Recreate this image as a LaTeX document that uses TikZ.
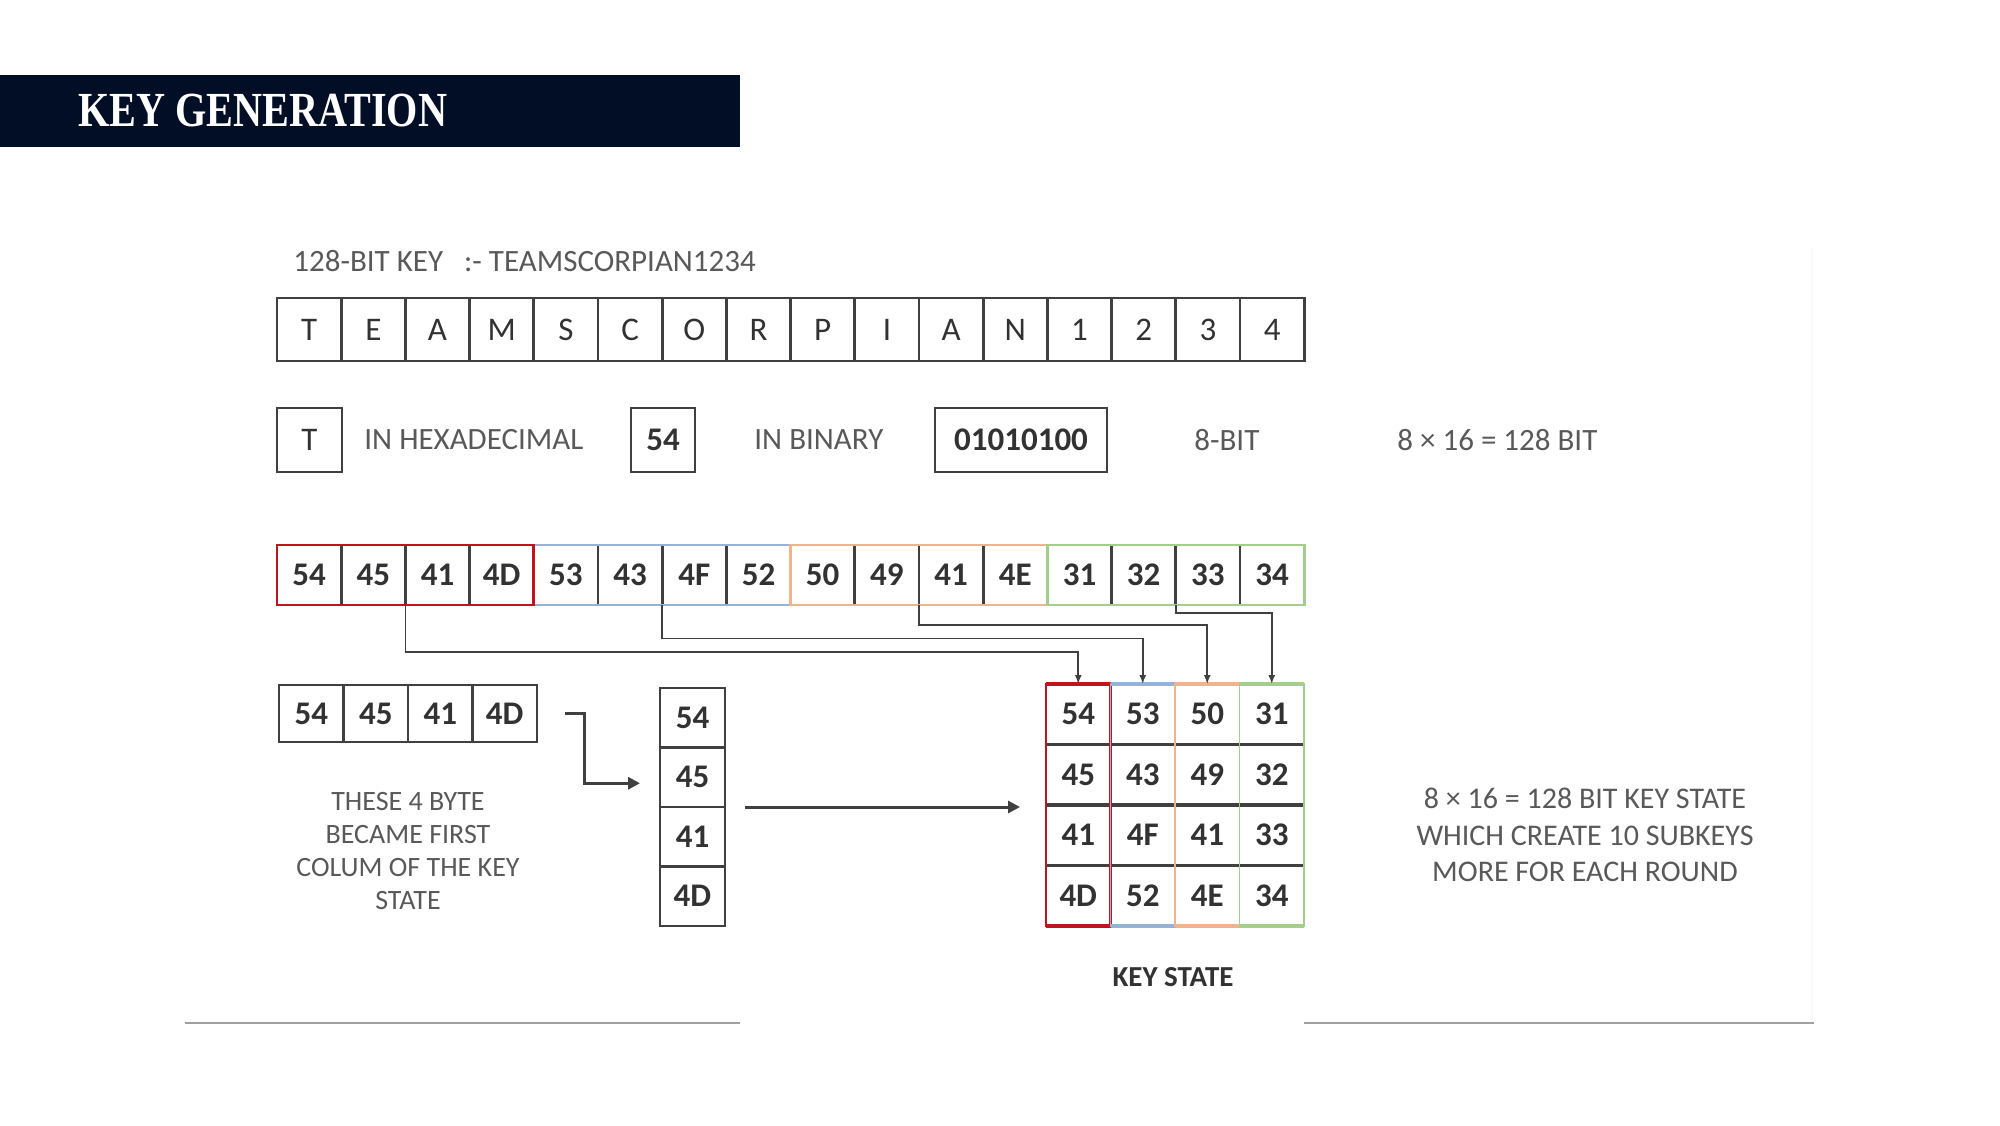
\documentclass[tikz,border=0pt]{standalone}
\usepackage{fontspec}
\setmainfont{Carlito}
\newfontfamily\slidefont{Liberation Serif}
\usetikzlibrary{arrows.meta}

\definecolor{titlenavy}{RGB}{2,14,38}
\definecolor{inkdark}{RGB}{64,64,64}
\definecolor{txtdark}{RGB}{50,50,50}
\definecolor{txtgray}{RGB}{89,89,89}
\definecolor{grpred}{RGB}{192,20,30}
\definecolor{grpblue}{RGB}{150,178,214}
\definecolor{grporange}{RGB}{240,180,140}
\definecolor{grpgreen}{RGB}{165,205,140}
\definecolor{rulegray}{RGB}{160,160,160}

\tikzset{
	keycell/.style={draw=inkdark,line width=1.4pt,outer sep=0pt,inner sep=0pt,minimum width=32.1pt,minimum height=31.5pt,text=txtdark,font=\fontsize{16.5}{20}\selectfont},
	boldcell/.style={keycell,font=\bfseries\fontsize{16.5}{20}\selectfont},
	hexcell/.style={boldcell,minimum height=30pt},
	gridcell/.style={inner sep=0pt,outer sep=0pt,minimum width=32.25pt,minimum height=30.25pt,text=txtdark,font=\bfseries\fontsize{16.5}{20}\selectfont},
	graytxt/.style={inner sep=0pt,text=txtgray,font=\fontsize{15.5}{18}\selectfont},
	link/.style={inkdark,line width=0.8pt,-{Latex[length=4.5pt,width=3.5pt]}},
	fatarrow/.style={inkdark,line width=1.5pt,-{Triangle[length=6pt,width=6pt]}}
}

\begin{document}
\begin{tikzpicture}[x=0.5pt,y=-0.5pt]
	\useasboundingbox (0,0) rectangle (2000,1125);
	\fill[titlenavy] (0,75) rectangle (740,147);
	\node[anchor=base west,inner sep=0pt,text=white,font=\slidefont\bfseries\fontsize{24.5}{28}\selectfont] (title) at (78,126) {\scalebox{0.82}[1]{KEY GENERATION}};
	\draw[gray!5,line width=1pt] (1812,247) -- (1812,1020);

	\node[graytxt,anchor=west] (keylbl) at (293,261) {128-BIT KEY\ \ \ :- TEAMSCORPIAN1234};
	\foreach \ch [count=\i] in {T,E,A,M,S,C,O,R,P,I,A,N,1,2,3,4}
		\node[keycell] (k\i) at ({277+64.2*(\i-0.5)},329.5) {\ch};

	\node[keycell,minimum width=32.5pt,minimum height=32pt] (tbox) at (309.5,440) {T};
	\node[graytxt,anchor=west] (hexlbl) at (364,440) {IN HEXADECIMAL};
	\node[boldcell,minimum width=32pt,minimum height=32pt] (hexbox) at (663,440) {54};
	\node[graytxt,anchor=west] (binlbl) at (754,440) {IN BINARY};
	\node[boldcell,minimum width=86pt,minimum height=32pt] (binbox) at (1021,440) {01010100};
	\node[graytxt,anchor=west] (bitlbl) at (1194,440) {8-BIT};
	\node[graytxt,anchor=west] (totlbl) at (1397,440) {8 × 16 = 128 BIT};

	\foreach \hx [count=\i] in {54,45,41,4D,53,43,4F,52,50,49,41,4E,31,32,33,34}
		\node[hexcell] (h\i) at ({277+64.2*(\i-0.5)},575) {\hx};
	\foreach \grp/\a/\b in {grpblue/5/8,grporange/9/12,grpgreen/13/16,grpred/1/4}
		\draw[\grp,line width=1.4pt] (h\a.north west) rectangle (h\b.south east);

	\foreach \v [count=\n from 0] in {54,53,50,31,45,43,49,32,41,4F,41,33,4D,52,4E,34} {
		\pgfmathtruncatemacro\r{div(\n,4)+1}
		\pgfmathtruncatemacro\c{mod(\n,4)+1}
		\node[gridcell] (g\r\c) at ({1046+64.5*(\c-0.5)},{684+60.5*(\r-0.5)}) {\v};
	}
	\foreach \r in {1,2,3}
		\draw[inkdark,line width=1.8pt] (g\r1.south west) -- (g\r4.south east);
	\foreach \grp/\w [count=\c] in {grpred/1.4pt,grpblue/0.9pt,grporange/0.9pt,grpgreen/0.9pt} {
		\draw[\grp,line width=\w] (g1\c.north west) rectangle (g4\c.south east);
		\draw[\grp,line width=2pt] (g1\c.north west) -- (g1\c.north east) (g4\c.south west) -- (g4\c.south east);
	}

	\draw[link] (h2.south east) -- ++(0,47) -| (g11.north);
	\draw[link] (h6.south east) -- ++(0,33.5) -| (g12.north);
	\draw[link] (h10.south east) -- ++(0,20) -| (g13.north);
	\draw[link] (h14.south east) -- ++(0,8) -| (g14.north);

	\foreach \hx [count=\i] in {54,45,41,4D}
		\node[boldcell,minimum width=32.25pt,minimum height=28.5pt] (b\i) at ({279+64.5*(\i-0.5)},713.5) {\hx};
	\foreach \hx [count=\i] in {54,45,41,4D}
		\node[boldcell,minimum width=32.5pt,minimum height=29.75pt] (c\i) at (692.5,{688+59.5*(\i-0.5)}) {\hx};

	\draw[fatarrow] ([xshift=14pt]b4.east) -- ++(19,0) |- ([xshift=-10pt,yshift=-3pt]c2.west);
	\draw[fatarrow] ([xshift=10pt]c3.north east) -- ([xshift=-13pt]g31.west |- c3.north east);

	\node[graytxt,align=center,font=\fontsize{14}{16.4}\selectfont] (firstcol) at (408,851) {THESE 4 BYTE\\BECAME FIRST\\COLUM OF THE KEY\\STATE};
	\node[inner sep=0pt,text=txtdark,font=\bfseries\fontsize{14.5}{17}\selectfont] (kslbl) at (1173,977) {KEY STATE};
	\node[graytxt,align=center,font=\fontsize{15}{18.25}\selectfont] (statetxt) at (1585,835) {8 × 16 = 128 BIT KEY STATE\\WHICH CREATE 10 SUBKEYS\\MORE FOR EACH ROUND};

	\draw[rulegray,line width=1.3pt] (185,1023) -- (740,1023);
	\draw[rulegray,line width=1.3pt] (1304,1023) -- (1814,1023);
\end{tikzpicture}
\end{document}
